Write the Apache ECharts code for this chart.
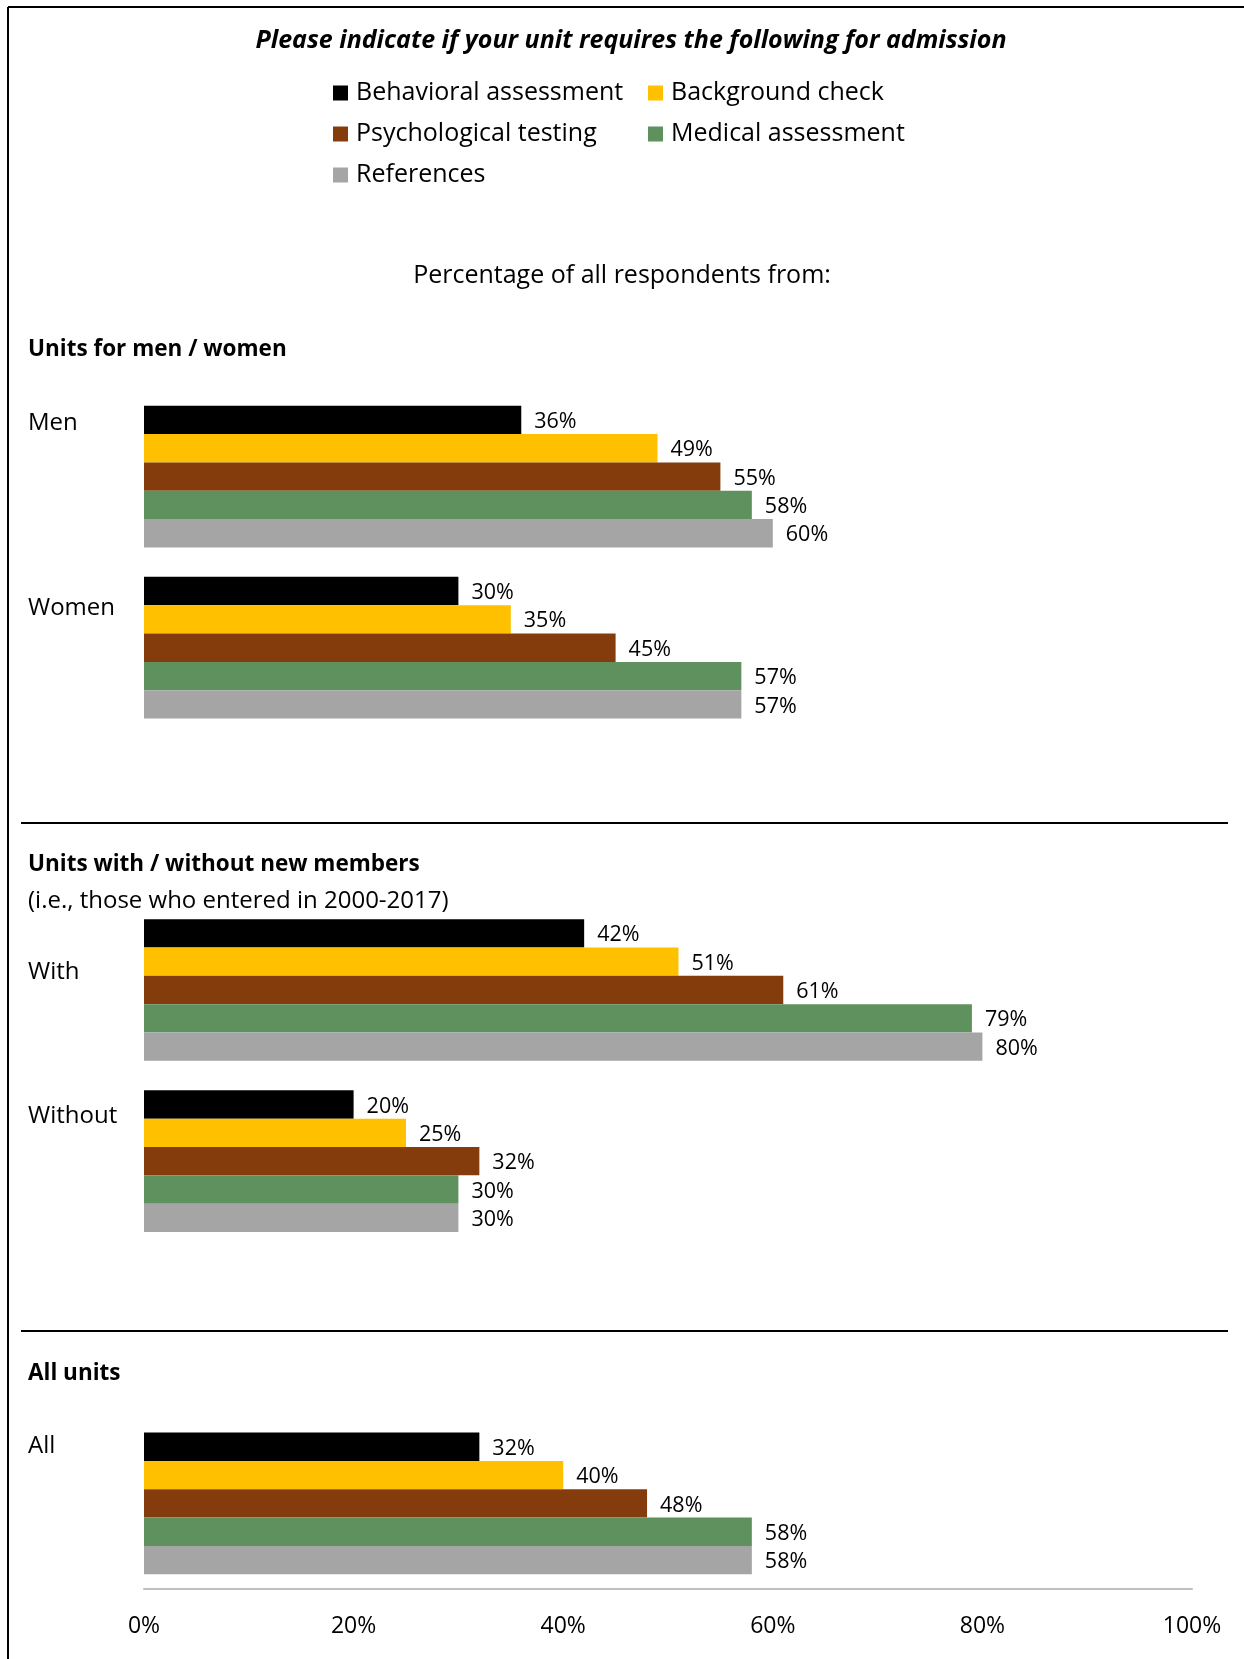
<!DOCTYPE html>
<html>
<head>
<meta charset="utf-8">
<title>Admission requirements by unit type</title>
<script src="https://cdn.jsdelivr.net/npm/echarts@6/dist/echarts.min.js"></script>
<style>
  html, body { margin: 0; padding: 0; background: #ffffff; }
  #chart { width: 1244px; height: 1659px; }
</style>
</head>
<body>
<div id="chart"></div>
<script>
// Unit groups, in reading order
const categories = ['Men', 'Women', 'With', 'Without', 'All'];
// Sections of the chart: each lists the groups it holds
const sections = [
  ['Men', 'Women'],
  ['With', 'Without'],
  ['All']
];
const sectionHeadings = [
  ['Units for men / women'],
  ['Units with / without new members', '(i.e., those who entered in 2000-2017)'],
  ['All units']
];

// Requirement series (% of respondents), one value per group
const seriesNames = ['Behavioral assessment', 'Background check', 'Psychological testing', 'Medical assessment', 'References'];
const behavioral    = [36, 30, 42, 20, 32];
const background    = [49, 35, 51, 25, 40];
const psychological = [55, 45, 61, 32, 48];
const medical       = [58, 57, 79, 30, 58];
const references    = [60, 57, 80, 30, 58];

const xTicks = [0, 20, 40, 60, 80, 100];

const titleText = 'Please indicate if your unit requires the following for admission';
const subtitleText = 'Percentage of all respondents from:';

// ---- styling ----
const FONT = '"Open Sans", Lato, sans-serif';
const colors = ['#000000', '#FFC000', '#843C0C', '#5F915F', '#A5A5A5'];
// how far each group label sits above its band centre (px)
const labelLift = { Men: 53, Women: 40, With: 18, Without: 45, All: 57 };

// Build axis rows: groups of a section, with an empty spacer row between sections
const rows = [];
sections.forEach((sec, i) => {
  if (i > 0) rows.push('spacer' + i);
  sec.forEach(c => rows.push(c));
});
const rowValues = arr => rows.map(r => {
  const i = categories.indexOf(r);
  return i < 0 ? '-' : arr[i];
});
const seriesData = [behavioral, background, psychological, medical, references];

const rich = {};
categories.forEach((c, i) => {
  rich['c' + i] = {
    fontFamily: FONT, fontSize: 24, color: '#000', lineHeight: 28,
    padding: [0, 0, 2 * labelLift[c], 0]
  };
});

const legendText = { fontFamily: FONT, fontSize: 25, color: '#000', lineHeight: 28, padding: [0, 0, 0, 3] };

const chart = echarts.init(document.getElementById('chart'), null, { renderer: 'canvas' });

const option = {
  backgroundColor: '#ffffff',
  animation: false,
  textStyle: { fontFamily: FONT },
  color: colors,
  legend: [
    {
      data: [seriesNames[0], seriesNames[2], seriesNames[4]],
      orient: 'vertical', left: 328, top: 74,
      icon: 'rect', itemWidth: 15, itemHeight: 15, itemGap: 13,
      textStyle: legendText,
      selectedMode: false
    },
    {
      data: [seriesNames[1], seriesNames[3]],
      orient: 'vertical', left: 643, top: 74,
      icon: 'rect', itemWidth: 15, itemHeight: 15, itemGap: 13,
      textStyle: legendText,
      selectedMode: false
    }
  ],
  grid: { left: 144, right: 52, top: 391, bottom: 70, containLabel: false },
  xAxis: {
    type: 'value', min: xTicks[0], max: xTicks[xTicks.length - 1], interval: xTicks[1] - xTicks[0],
    splitLine: { show: false },
    axisTick: { show: false },
    axisLine: { show: true, lineStyle: { color: '#BFBFBF', width: 2 } },
    axisLabel: { formatter: '{value}%', margin: 26, fontFamily: FONT, fontSize: 23, color: '#000' }
  },
  yAxis: {
    type: 'category', inverse: true, data: rows,
    axisLine: { show: false }, axisTick: { show: false }, splitLine: { show: false },
    axisLabel: {
      align: 'left', margin: 116,
      formatter: v => {
        const i = categories.indexOf(v);
        return i < 0 ? '' : '{c' + i + '|' + v + '}';
      },
      rich: rich
    }
  },
  series: seriesNames.map((name, k) => ({
    name: name,
    type: 'bar',
    data: rowValues(seriesData[k]),
    barGap: '0%',
    barCategoryGap: '17.2%',
    itemStyle: { color: colors[k] },
    label: {
      show: true, position: 'right', distance: 13, offset: [0, 2],
      formatter: '{c}%', fontFamily: FONT, fontSize: 21.5, color: '#000'
    }
  }))
};

chart.setOption(option);

// Frame, headings and section separators
const headingY = [350, 865, 1374];
const separatorY = [823, 1331];
const graphics = [
  { type: 'line', shape: { x1: 8, y1: 7, x2: 1244, y2: 7 }, style: { stroke: '#000', lineWidth: 2 } },
  { type: 'line', shape: { x1: 8, y1: 7, x2: 8, y2: 1659 }, style: { stroke: '#000', lineWidth: 2 } },
  { type: 'text', x: 631, y: 41, style: { text: titleText, font: 'italic bold 25px ' + FONT, fill: '#000', textAlign: 'center', textVerticalAlign: 'middle' } },
  { type: 'text', x: 622, y: 276, style: { text: subtitleText, font: '25px ' + FONT, fill: '#000', textAlign: 'center', textVerticalAlign: 'middle' } }
];
sectionHeadings.forEach((lines, i) => {
  lines.forEach((t, j) => {
    graphics.push({
      type: 'text', x: 28, y: headingY[i] + j * 36,
      style: { text: t, font: (j === 0 ? 'bold 22.5px ' : '24px ') + FONT, fill: '#000', textAlign: 'left', textVerticalAlign: 'middle' }
    });
  });
});
separatorY.forEach(y => {
  graphics.push({ type: 'line', shape: { x1: 21, y1: y, x2: 1228, y2: y }, style: { stroke: '#000', lineWidth: 2 } });
});
chart.setOption({ graphic: graphics });
</script>
</body>
</html>
